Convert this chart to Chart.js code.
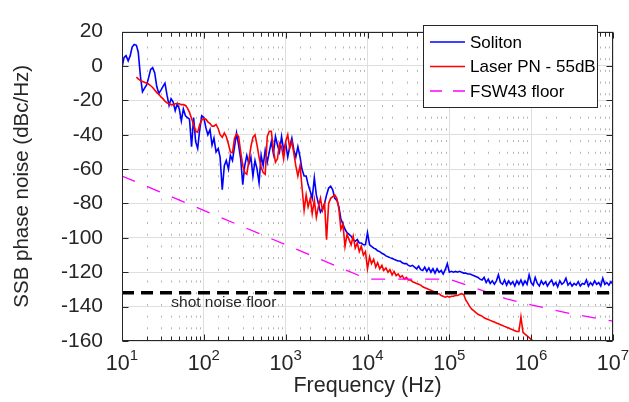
<!DOCTYPE html>
<html>
<head>
<meta charset="utf-8">
<script src="https://cdn.jsdelivr.net/npm/chart.js@4.4.1/dist/chart.umd.min.js"></script>
<style>
  html, body { margin: 0; padding: 0; background: #fff; }
  #chart { display: block; }
</style>
</head>
<body>
<canvas id="chart" width="629" height="402"></canvas>
<script>
const FONT = "'Liberation Sans', Arial, Helvetica, sans-serif";
const TEXT = "#262626";

// sample frequencies (Hz) shared by the two measured traces
const freqHz = [
  10, 10.6, 11.2, 11.9, 12.6, 13.3, 14.1, 15.0, 15.8, 16.8, 17.8, 18.8, 20.0, 21.1, 22.4, 23.7, 25.1, 26.6, 28.2, 29.9,
  31.6, 33.5, 35.5, 37.6, 39.8, 42.2, 44.7, 47.3, 50.1, 53.1, 56.2, 59.6, 63.1, 66.8, 70.8, 75.0, 79.4, 84.1, 89.1, 94.4,
  100, 106, 112, 119, 126, 133, 141, 150, 158, 168, 178, 188, 200, 211, 224, 237, 251, 266, 282, 299,
  316, 335, 355, 376, 398, 422, 447, 473, 501, 531, 562, 596, 631, 668, 708, 750, 794, 841, 891, 944,
  1.00e3, 1.06e3, 1.12e3, 1.19e3, 1.26e3, 1.33e3, 1.41e3, 1.50e3, 1.58e3, 1.68e3, 1.78e3, 1.88e3, 2.00e3, 2.11e3, 2.24e3, 2.37e3, 2.51e3, 2.66e3, 2.82e3, 2.99e3,
  3.16e3, 3.35e3, 3.55e3, 3.76e3, 3.98e3, 4.22e3, 4.47e3, 4.73e3, 5.01e3, 5.31e3, 5.62e3, 5.96e3, 6.31e3, 6.68e3, 7.08e3, 7.50e3, 7.94e3, 8.41e3, 8.91e3, 9.44e3,
  1.00e4, 1.06e4, 1.12e4, 1.19e4, 1.26e4, 1.33e4, 1.41e4, 1.50e4, 1.58e4, 1.68e4, 1.78e4, 1.88e4, 2.00e4, 2.11e4, 2.24e4, 2.37e4, 2.51e4, 2.66e4, 2.82e4, 2.99e4,
  3.16e4, 3.35e4, 3.55e4, 3.76e4, 3.98e4, 4.22e4, 4.47e4, 4.73e4, 5.01e4, 5.31e4, 5.62e4, 5.96e4, 6.31e4, 6.68e4, 7.08e4, 7.50e4, 7.94e4, 8.41e4, 8.91e4, 9.44e4,
  1.00e5, 1.06e5, 1.12e5, 1.19e5, 1.26e5, 1.33e5, 1.41e5, 1.50e5, 1.58e5, 1.68e5, 1.78e5, 1.88e5, 2.00e5, 2.11e5, 2.24e5, 2.37e5, 2.51e5, 2.66e5, 2.82e5, 2.99e5,
  3.16e5, 3.35e5, 3.55e5, 3.76e5, 3.98e5, 4.22e5, 4.47e5, 4.73e5, 5.01e5, 5.31e5, 5.62e5, 5.96e5, 6.31e5, 6.68e5, 7.08e5, 7.50e5, 7.94e5, 8.41e5, 8.91e5, 9.44e5,
  1.00e6, 1.06e6, 1.12e6, 1.19e6, 1.26e6, 1.33e6, 1.41e6, 1.50e6, 1.58e6, 1.68e6, 1.78e6, 1.88e6, 2.00e6, 2.11e6, 2.24e6, 2.37e6, 2.51e6, 2.66e6, 2.82e6, 2.99e6,
  3.16e6, 3.35e6, 3.55e6, 3.76e6, 3.98e6, 4.22e6, 4.47e6, 4.73e6, 5.01e6, 5.31e6, 5.62e6, 5.96e6, 6.31e6, 6.68e6, 7.08e6, 7.50e6, 7.94e6, 8.41e6, 8.91e6, 9.44e6,
  1.00e7
];

// Soliton, dBc/Hz
const solitonDb = [
  -1, 5, 6, 3, 6, 11, 12.5, 12, 8, -6, -15, -13, -11, -7, -2, -1, -4, -12, -16, -14,
  -12, -10, -17, -23, -19, -21, -26, -22, -25, -32, -25, -29, -30, -31, -47, -30, -44, -48, -37, -29,
  -30, -36, -40, -37, -46, -42, -50, -48, -53, -72, -58, -55, -60, -52, -55, -47, -39, -46, -54, -69,
  -58, -52, -57, -53, -64, -55, -60, -68, -52, -58, -49, -56, -50, -44, -51, -41, -46, -50, -41, -49,
  -45, -53, -47, -42, -49, -53, -47, -53, -60, -64, -64, -69, -73, -77, -65, -75, -80, -85, -83, -80,
  -75, -71, -70, -72, -77, -78, -82, -89, -92, -95, -97, -98, -99, -101, -102, -101, -103, -103, -104, -104,
  -97, -104, -105, -106, -106.5, -107.5, -108, -109, -109.5, -110.5, -111, -111.5, -112, -112.5, -113, -113.5, -113.5, -114.5, -115, -115,
  -116, -116.5, -116, -117, -118, -116.5, -118.5, -119, -117, -119.5, -117.5, -120, -118, -120.5, -118, -120, -119, -121, -118.5, -115,
  -120, -119.5, -120, -119.5, -120, -119.5, -120, -120.5, -120.5, -121, -121, -121.5, -122, -122.5, -123, -124, -124.5, -123, -126, -124,
  -126.5, -125, -127, -125, -121.5, -126, -127, -124.5, -127.5, -125, -127, -125.5, -128, -125, -127, -124.5, -127.5, -125, -127, -121.5,
  -126, -127.5, -123, -126.5, -128, -125, -127, -125.5, -128, -126, -124.5, -127.5, -126, -128.5, -125, -127, -126, -123.5, -127.5, -126,
  -128, -126.5, -127.5, -125.5, -128, -126.5, -127, -124.5, -128, -126, -127.5, -125, -127, -126, -128, -123.5, -127, -126, -127.5, -125.5,
  -127
];

// Laser PN - 55dB, dBc/Hz (null where the trace is not drawn)
const laserDb = [
  null, null, null, null, null, null, null, -6.5, -7.5, -8.5, -9, -9.5, -10, -10.5, -11.5, -12.5, -14, -15.5, -16.5, -18,
  -19, -20.5, -21.5, -22, -22.5, -22.5, -22, -22, -22, -22.5, -22.5, -23, -24.5, -27, -30.5, -34, -38, -38.5, -34, -31.5,
  -30.5, -31, -32.5, -33.5, -35, -35, -34, -36.5, -40, -41.5, -39, -41, -45.5, -50, -50.5, -42, -39.5, -41, -50, -58,
  -62, -63, -55, -47, -41.5, -40, -46, -53, -59, -62, -63, -41, -38, -38, -49, -56, -54, -45, -47, -54,
  -44, -40, -48, -44, -51, -58, -64, -58, -70, -84, -75, -82, -77, -86, -78, -88, -82, -77, -84, -80,
  -101, -80, -77, -76, -75, -77, -83, -95, -92, -105, -98, -101, -104, -99, -106, -103, -108, -105, -110, -108,
  -118, -111, -115, -112.5, -117, -114.5, -118, -116, -119, -117.5, -120, -118.5, -121.5, -119.5, -122, -121, -123, -122, -124, -123,
  -124.5, -124.5, -125.5, -126, -126.5, -127, -127.5, -128.5, -129, -129.5, -130, -130.5, -131, -131.5, -132.5, -132.5, -133.5, -134, -134.5, -134,
  -134.5, -134, -134, -133.5, -133.5, -133, -132.5, -133, -136, -138, -140, -141.5, -142.5, -143.5, -144.5, -145, -145.5, -146.5, -147, -147.5,
  -148, -148.5, -149, -149.5, -150, -150.5, -151, -151.5, -152, -152.5, -153, -153.5, -154, -154.5, -154.5, -146, -155, -156, -157, -158,
  -159, -160, -161, null, null, null, null, null, null, null, null, null, null, null, null, null, null, null, null, null,
  null, null, null, null, null, null, null, null, null, null, null, null, null, null, null, null, null, null, null, null,
  null
];

// FSW43 analyser floor
const floorFreqHz = [10, 1e4, 1e5, 2e5, 5e5, 1e6, 3e6, 1e7];
const floorDb = [-64, -124, -124, -129, -135.5, -139, -144, -148.5];

// shot noise floor
const shotFreqHz = [10, 1e7];
const shotDb = [-132, -132];

const yMin = -160;
const yMax = 20;
const yStep = 20;

function toPoints(xs, ys) {
  return xs
    .map((x, i) => ({ x, y: ys[i] }))
    .filter(p => p.y !== null);
}

function isDecade(v) {
  const l = Math.log10(v);
  return Math.abs(l - Math.round(l)) < 1e-6;
}

const framePlugin = {
  id: "frame",

  beforeDatasetsDraw(chart) {
    // dotted minor grid at 2..9 of each decade
    const { ctx, chartArea: a, scales: { x } } = chart;
    ctx.save();
    ctx.strokeStyle = "#b4b4b4";
    ctx.lineWidth = 1;
    ctx.setLineDash([2, 9.7]);
    x.ticks.forEach(t => {
      if (isDecade(t.value)) return;
      const px = Math.round(x.getPixelForValue(t.value)) + 0.5;
      ctx.beginPath();
      ctx.moveTo(px, a.bottom);
      ctx.lineTo(px, a.top);
      ctx.stroke();
    });
    ctx.restore();
  },

  afterDatasetsDraw(chart) {
    const { ctx, chartArea: a, scales: { x, y } } = chart;
    ctx.save();

    // annotation
    ctx.fillStyle = TEXT;
    ctx.font = "15.5px " + FONT;
    ctx.textAlign = "left";
    ctx.textBaseline = "alphabetic";
    ctx.fillText("shot noise floor", x.getPixelForValue(40), 307);

    // box
    const L = Math.round(a.left) + 0.5;
    const R = Math.round(a.right) - 0.5;
    const T = Math.round(a.top) + 0.5;
    const B = Math.round(a.bottom) - 0.5;
    ctx.strokeStyle = TEXT;
    ctx.lineWidth = 1;
    ctx.strokeRect(L, T, R - L, B - T);

    // inward ticks
    ctx.beginPath();
    x.ticks.forEach(t => {
      const px = Math.round(x.getPixelForValue(t.value)) + 0.5;
      const len = isDecade(t.value) ? 6 : 4;
      ctx.moveTo(px, B);
      ctx.lineTo(px, B - len);
      ctx.moveTo(px, T);
      ctx.lineTo(px, T + len);
    });
    y.ticks.forEach(t => {
      const py = Math.round(y.getPixelForValue(t.value)) + 0.5;
      ctx.moveTo(L, py);
      ctx.lineTo(L + 6, py);
      ctx.moveTo(R, py);
      ctx.lineTo(R - 6, py);
    });
    ctx.stroke();

    // x tick labels as 10 with superscript exponent
    ctx.fillStyle = TEXT;
    ctx.textAlign = "left";
    x.ticks.forEach(t => {
      if (!isDecade(t.value)) return;
      const px = x.getPixelForValue(t.value);
      const exp = String(Math.round(Math.log10(t.value)));
      ctx.font = "21.5px " + FONT;
      const wBase = ctx.measureText("10").width;
      ctx.font = "15px " + FONT;
      const wExp = ctx.measureText(exp).width;
      const start = px - (wBase + wExp) / 2;
      ctx.font = "21.5px " + FONT;
      ctx.fillText("10", start, 370);
      ctx.font = "15px " + FONT;
      ctx.fillText(exp, start + wBase, 360);
    });

    // legend
    const box = { left: 423.5, top: 25.5, right: 597.5, bottom: 107.5 };
    ctx.fillStyle = "#fff";
    ctx.fillRect(box.left, box.top, box.right - box.left, box.bottom - box.top);
    ctx.strokeStyle = TEXT;
    ctx.lineWidth = 1;
    ctx.strokeRect(box.left, box.top, box.right - box.left, box.bottom - box.top);

    const items = chart.data.datasets.filter(d => d.label);
    ctx.font = "17px " + FONT;
    ctx.textBaseline = "middle";
    items.forEach((d, i) => {
      const ly = 42 + i * 24.5;
      ctx.strokeStyle = d.borderColor;
      ctx.lineWidth = d.borderWidth;
      ctx.setLineDash(d.borderDash ? [12, 11] : []);
      ctx.beginPath();
      ctx.moveTo(430, ly);
      ctx.lineTo(465, ly);
      ctx.stroke();
      ctx.fillStyle = "#000";
      ctx.fillText(d.label, 470, ly + 1);
    });

    ctx.restore();
  }
};

new Chart(document.getElementById("chart"), {
  type: "line",
  data: {
    datasets: [
      {
        label: "Soliton",
        data: toPoints(freqHz, solitonDb),
        borderColor: "#0000ff",
        borderWidth: 1.6,
        pointRadius: 0,
        fill: false,
        order: 4
      },
      {
        label: "Laser PN - 55dB",
        data: toPoints(freqHz, laserDb),
        borderColor: "#ff0000",
        borderWidth: 1.6,
        pointRadius: 0,
        fill: false,
        order: 3
      },
      {
        label: "FSW43 floor",
        data: toPoints(floorFreqHz, floorDb),
        borderColor: "#ff00ff",
        borderWidth: 1.3,
        borderDash: [14, 13],
        pointRadius: 0,
        fill: false,
        order: 2
      },
      {
        label: "",
        data: toPoints(shotFreqHz, shotDb),
        borderColor: "#000000",
        borderWidth: 3.5,
        borderDash: [12, 7],
        pointRadius: 0,
        fill: false,
        order: 1
      }
    ]
  },
  options: {
    responsive: false,
    animation: false,
    devicePixelRatio: 1,
    layout: { padding: { top: 15, right: 16, bottom: 0, left: 0 } },
    plugins: {
      legend: { display: false },
      tooltip: { enabled: false }
    },
    scales: {
      x: {
        type: "logarithmic",
        min: 10,
        max: 1e7,
        afterFit: s => { s.height = 61; },
        ticks: { display: false },
        grid: {
          drawTicks: false,
          color: c => (c.tick && isDecade(c.tick.value) ? "#dedede" : "rgba(0,0,0,0)")
        },
        border: { display: false },
        title: {
          display: true,
          text: "Frequency (Hz)",
          color: TEXT,
          font: { family: FONT, size: 21.5 },
          padding: { top: 0, bottom: 3 }
        }
      },
      y: {
        min: yMin,
        max: yMax,
        afterFit: s => { s.width = 122; },
        ticks: {
          stepSize: yStep,
          padding: 19,
          color: TEXT,
          font: { family: FONT, size: 21 }
        },
        grid: { drawTicks: false, color: "#dedede" },
        border: { display: false },
        title: {
          display: true,
          text: "SSB phase noise (dBc/Hz)",
          color: TEXT,
          font: { family: FONT, size: 20.5 },
          padding: { top: 10, bottom: 0 }
        }
      }
    }
  },
  plugins: [framePlugin]
});
</script>
</body>
</html>
